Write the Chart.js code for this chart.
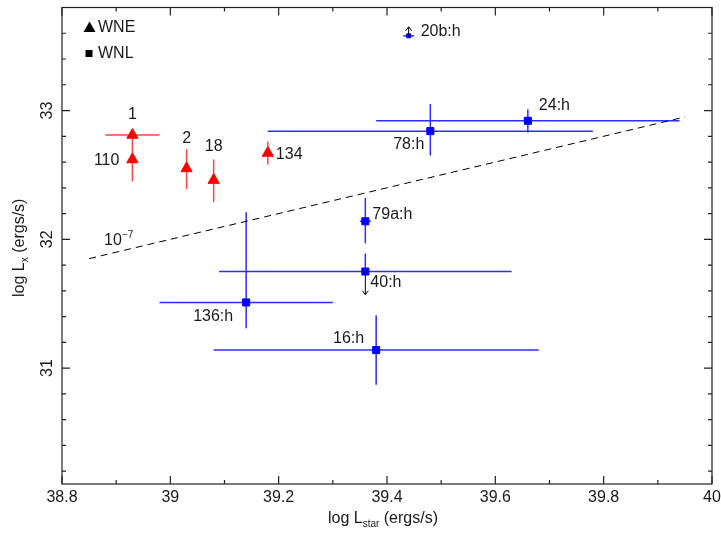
<!DOCTYPE html>
<html>
<head>
<meta charset="utf-8">
<script src="https://cdn.jsdelivr.net/npm/chart.js@4.4.1/dist/chart.umd.min.js"></script>
<style>
  html, body { margin: 0; padding: 0; background: #fff; }
</style>
</head>
<body>
<canvas id="chart" width="721" height="534"></canvas>
<script>
// WNE stars (red triangles)
const wneNames  = ['1', '110', '2', '18', '134'];
const wneLstar  = [38.93, 38.93, 39.03, 39.08, 39.18];
const wneLx     = [32.81, 32.62, 32.55, 32.46, 32.67];
const wneLstarLo = [38.88, null, null, null, null];
const wneLstarHi = [38.98, null, null, null, null];
const wneLxLo   = [null, 32.45, 32.39, 32.29, 32.58];
const wneLxHi   = [null, 32.79, 32.70, 32.62, 32.76];

// WNL stars (blue squares)
const wnlNames  = ['20b:h', '24:h', '78:h', '79a:h', '40:h', '136:h', '16:h'];
const wnlLstar  = [39.44, 39.66, 39.48, 39.36, 39.36, 39.14, 39.38];
const wnlLx     = [33.58, 32.92, 32.84, 32.14, 31.75, 31.51, 31.14];
const wnlLstarLo = [39.43, 39.38, 39.18, 39.35, 39.09, 38.98, 39.08];
const wnlLstarHi = [39.45, 39.94, 39.78, 39.37, 39.63, 39.30, 39.68];
const wnlLxLo   = [null, 32.83, 32.65, 31.97, null, 31.31, 30.87];
const wnlLxHi   = [null, 33.01, 33.05, 32.32, 31.89, 32.21, 31.41];
// limits: arrow from the point to this value
const wnlLimit  = [33.65, null, null, null, 31.57, null, null];

// Lx / Lstar = 1e-7
const ratioLstar = [38.85, 39.95];
const ratioLx    = [31.85, 32.95];

const xTicks = [38.8, 39.0, 39.2, 39.4, 39.6, 39.8, 40.0];
const xMinor = [38.9, 39.1, 39.3, 39.5, 39.7, 39.9];
const yTicks = [31, 32, 33];
const yMinor = [30.2, 30.4, 30.6, 30.8, 31.2, 31.4, 31.6, 31.8, 32.2, 32.4, 32.6, 32.8, 33.2, 33.4, 33.6];

const FONT = "'Liberation Sans', Arial, sans-serif";
const TEXT = '#1a1a1a';

// label placement relative to the marker (pixels)
const labelPos = {
  '1':     { dx: 0,   dy: -20, align: 'center' },
  '110':   { dx: -13, dy: 1,   align: 'right' },
  '2':     { dx: 0,   dy: -30, align: 'center' },
  '18':    { dx: 0,   dy: -33, align: 'center' },
  '134':   { dx: 8,   dy: 2,   align: 'left' },
  '20b:h': { dx: 12,  dy: -4,  align: 'left' },
  '24:h':  { dx: 11,  dy: -15, align: 'left' },
  '78:h':  { dx: -6,  dy: 13,  align: 'right' },
  '79a:h': { dx: 7,   dy: -7,  align: 'left' },
  '40:h':  { dx: 5,   dy: 11,  align: 'left' },
  '136:h': { dx: -13, dy: 14,  align: 'right' },
  '16:h':  { dx: -12, dy: -11, align: 'right' }
};

function pts(xs, ys) {
  return xs.map((x, i) => ({ x: x, y: ys[i] }));
}

function drawRich(ctx, parts, x, y, align) {
  let total = 0;
  parts.forEach(p => {
    ctx.font = p.size + 'px ' + FONT;
    p.w = ctx.measureText(p.t).width;
    total += p.w;
  });
  let cx = align === 'center' ? x - total / 2 : x;
  ctx.textAlign = 'left';
  ctx.textBaseline = 'alphabetic';
  parts.forEach(p => {
    ctx.font = p.size + 'px ' + FONT;
    ctx.fillText(p.t, cx, y + (p.dy || 0));
    cx += p.w;
  });
}

function arrow(ctx, x, y0, y1) {
  const dir = y1 < y0 ? -1 : 1;
  ctx.beginPath();
  ctx.moveTo(x, y0);
  ctx.lineTo(x, y1);
  ctx.moveTo(x - 3, y1 - dir * 4);
  ctx.lineTo(x, y1);
  ctx.lineTo(x + 3, y1 - dir * 4);
  ctx.stroke();
}

const errorBars = {
  id: 'errorBars',
  beforeDatasetsDraw(chart) {
    const ctx = chart.ctx, xs = chart.scales.x, ys = chart.scales.y;
    ctx.save();
    chart.data.datasets.forEach(ds => {
      if (!ds.err) return;
      ctx.strokeStyle = ds.err.color;
      ctx.lineWidth = 1.5;
      ds.data.forEach((p, i) => {
        const px = xs.getPixelForValue(p.x), py = ys.getPixelForValue(p.y);
        ctx.beginPath();
        if (ds.err.xLo[i] != null) {
          ctx.moveTo(xs.getPixelForValue(ds.err.xLo[i]), py);
          ctx.lineTo(xs.getPixelForValue(ds.err.xHi[i]), py);
        }
        if (ds.err.yHi[i] != null) {
          const lo = ds.err.yLo[i] != null ? ds.err.yLo[i] : p.y;
          ctx.moveTo(px, ys.getPixelForValue(lo));
          ctx.lineTo(px, ys.getPixelForValue(ds.err.yHi[i]));
        }
        ctx.stroke();
      });
    });
    ctx.restore();
  },
  afterDatasetsDraw(chart) {
    const ctx = chart.ctx, xs = chart.scales.x, ys = chart.scales.y;
    ctx.save();
    ctx.strokeStyle = '#000';
    ctx.lineWidth = 1;
    chart.data.datasets.forEach(ds => {
      if (!ds.limit) return;
      ds.data.forEach((p, i) => {
        if (ds.limit[i] == null) return;
        arrow(ctx, xs.getPixelForValue(p.x), ys.getPixelForValue(p.y), ys.getPixelForValue(ds.limit[i]));
      });
    });
    ctx.restore();
  }
};

const decorations = {
  id: 'decorations',
  afterDraw(chart) {
    const ctx = chart.ctx, xs = chart.scales.x, ys = chart.scales.y;
    const a = chart.chartArea;
    ctx.save();

    // frame and inward ticks on all four sides
    ctx.strokeStyle = '#222';
    ctx.lineWidth = 1.2;
    ctx.strokeRect(a.left, a.top, a.right - a.left, a.bottom - a.top);
    const tick = (vals, len) => {
      vals.forEach(v => {
        const px = xs.getPixelForValue(v);
        ctx.moveTo(px, a.bottom); ctx.lineTo(px, a.bottom - len);
        ctx.moveTo(px, a.top); ctx.lineTo(px, a.top + len);
      });
    };
    const ytick = (vals, len) => {
      vals.forEach(v => {
        const py = ys.getPixelForValue(v);
        ctx.moveTo(a.left, py); ctx.lineTo(a.left + len, py);
        ctx.moveTo(a.right, py); ctx.lineTo(a.right - len, py);
      });
    };
    ctx.beginPath();
    tick(xTicks, 8); tick(xMinor, 4);
    ytick(yTicks, 8); ytick(yMinor, 4);
    ctx.stroke();

    // point labels
    ctx.fillStyle = TEXT;
    ctx.font = '16px ' + FONT;
    ctx.textBaseline = 'middle';
    chart.data.datasets.forEach(ds => {
      if (!ds.names) return;
      ds.data.forEach((p, i) => {
        const s = labelPos[ds.names[i]];
        ctx.textAlign = s.align;
        ctx.fillText(ds.names[i], xs.getPixelForValue(p.x) + s.dx, ys.getPixelForValue(p.y) + s.dy);
      });
    });

    // ratio label next to the dashed line
    const rx = xs.getPixelForValue(ratioLstar[0]), ry = ys.getPixelForValue(ratioLx[0]);
    drawRich(ctx, [{ t: '10', size: 16 }, { t: '\u22127', size: 10, dy: -7 }], rx + 15, ry - 14, 'left');

    // legend
    ctx.fillStyle = '#000';
    ctx.beginPath();
    ctx.moveTo(89.5, 21.5); ctx.lineTo(95.5, 32); ctx.lineTo(83.5, 32); ctx.closePath();
    ctx.fill();
    ctx.fillRect(85.5, 50, 7, 7);
    ctx.fillStyle = TEXT;
    ctx.font = '16px ' + FONT;
    ctx.textAlign = 'left';
    ctx.textBaseline = 'middle';
    ctx.fillText('WNE', 98, 27.5);
    ctx.fillText('WNL', 98, 54);

    // axis titles with subscripts
    drawRich(ctx, [{ t: 'log L', size: 16 }, { t: 'star', size: 10, dy: 4 }, { t: ' (ergs/s)', size: 16 }],
      (a.left + a.right) / 2 - 4, 522.5, 'center');
    ctx.translate(24, (a.top + a.bottom) / 2 + 2);
    ctx.rotate(-Math.PI / 2);
    drawRich(ctx, [{ t: 'log L', size: 16 }, { t: 'x', size: 10, dy: 4 }, { t: ' (ergs/s)', size: 16 }],
      0, 0, 'center');
    ctx.restore();
  }
};

new Chart(document.getElementById('chart'), {
  type: 'scatter',
  data: {
    datasets: [
      {
        label: 'ratio',
        type: 'line',
        data: pts(ratioLstar, ratioLx),
        borderColor: '#000',
        borderWidth: 1,
        borderDash: [7, 5],
        pointRadius: 0,
        fill: false
      },
      {
        label: 'WNE',
        data: pts(wneLstar, wneLx),
        names: wneNames,
        err: { xLo: wneLstarLo, xHi: wneLstarHi, yLo: wneLxLo, yHi: wneLxHi, color: 'rgb(255,70,70)' },
        pointStyle: 'triangle',
        pointRadius: 6.5,
        backgroundColor: '#ff0000',
        borderColor: '#ff0000',
        borderWidth: 1
      },
      {
        label: 'WNL',
        data: pts(wnlLstar, wnlLx),
        names: wnlNames,
        limit: wnlLimit,
        err: { xLo: wnlLstarLo, xHi: wnlLstarHi, yLo: wnlLxLo, yHi: wnlLxHi, color: 'rgb(45,45,255)' },
        pointStyle: 'rect',
        pointRadius: [2.8, 5, 5, 5, 5, 5, 5],
        backgroundColor: '#0000ff',
        borderColor: '#0000ff',
        borderWidth: 1
      }
    ]
  },
  options: {
    responsive: false,
    animation: false,
    layout: { padding: { left: 0, right: 9, top: 3, bottom: 0 } },
    plugins: { legend: { display: false }, tooltip: { enabled: false } },
    scales: {
      x: {
        type: 'linear',
        min: 38.8,
        max: 40,
        grid: { display: false, drawTicks: false },
        border: { display: false },
        afterBuildTicks: s => { s.ticks = xTicks.map(v => ({ value: v })); },
        afterFit: s => { s.height = 50; s.paddingLeft = 0; s.paddingRight = 0; },
        ticks: {
          color: TEXT,
          font: { family: FONT, size: 16 },
          padding: 4,
          maxRotation: 0,
          autoSkip: false,
          callback: v => String(+(+v).toFixed(1))
        }
      },
      y: {
        type: 'linear',
        min: 30.1,
        max: 33.8,
        grid: { display: false, drawTicks: false },
        border: { display: false },
        afterBuildTicks: s => { s.ticks = yTicks.map(v => ({ value: v })); },
        afterFit: s => { s.width = 62; s.paddingTop = 0; s.paddingBottom = 0; },
        ticks: {
          color: TEXT,
          font: { family: FONT, size: 16 },
          padding: 6,
          minRotation: 90,
          maxRotation: 90,
          crossAlign: 'center',
          autoSkip: false,
          callback: v => String(v)
        }
      }
    }
  },
  plugins: [errorBars, decorations]
});
</script>
</body>
</html>
